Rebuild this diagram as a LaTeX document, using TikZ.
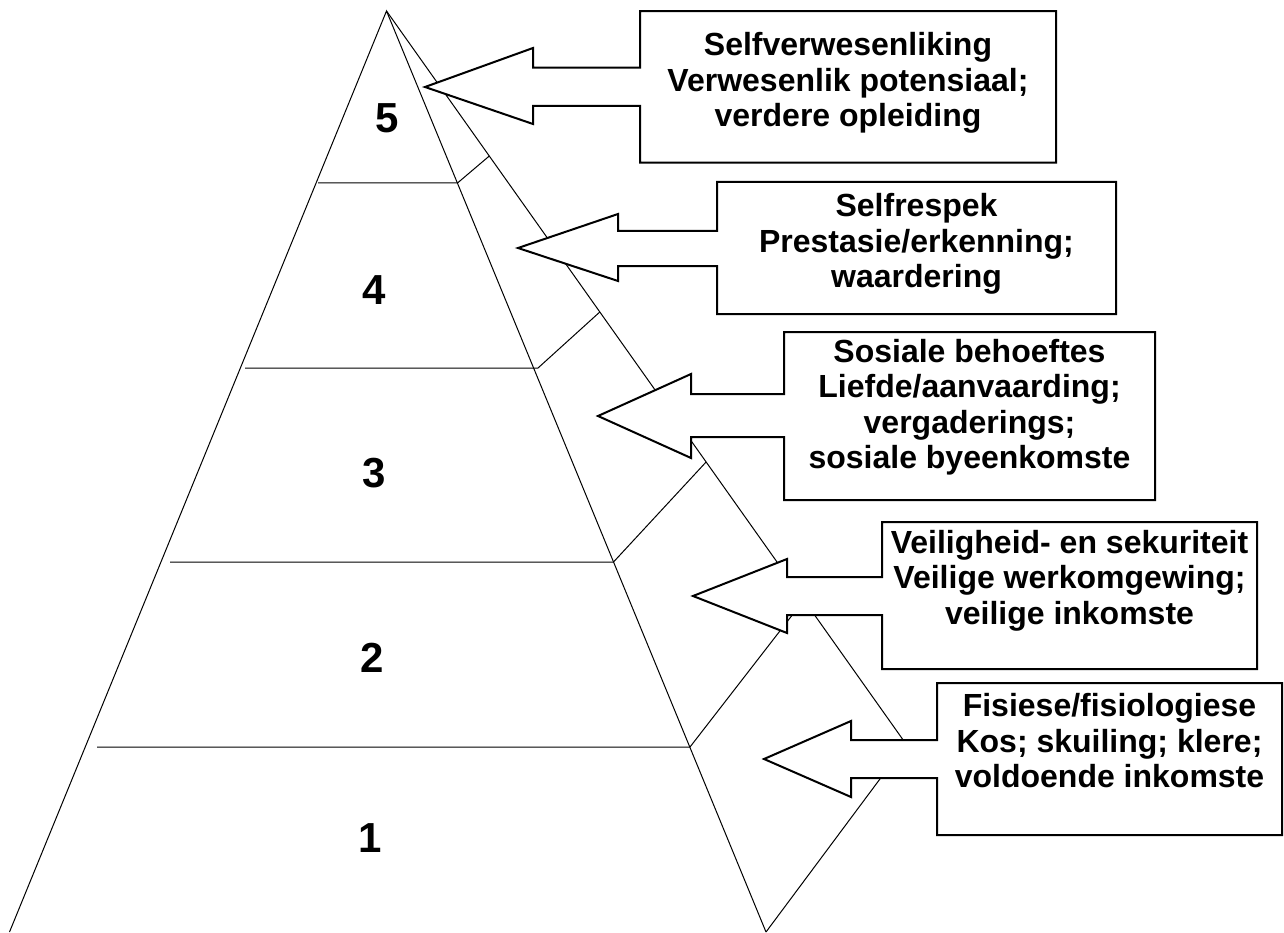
\documentclass[tikz,border=0pt]{standalone}
\usepackage{fontspec}
\setmainfont{Liberation Sans}
\usetikzlibrary{calc}
\tikzset{
  pyrline/.style={
    draw=black,
    line width=1pt
  },
  calloutshape/.style={
    draw=black,
    fill=white,
    line width=2pt,
    line join=miter
  },
  calloutbox/.style={
    draw=none,
    inner sep=0pt,
    outer sep=0pt
  },
  callouttext/.style={
    align=center,
    inner sep=0pt,
    font=\fontsize{32}{35.5}\selectfont\bfseries
  },
  levelnum/.style={
    font=\fontsize{42}{42}\selectfont\bfseries
  }
}

\begin{document}
\begin{tikzpicture}[x=1pt, y=-1pt]
    \useasboundingbox (0,0) rectangle (1284,933);

    % pyramid corners
    \coordinate (apex) at (386.5,11);
    \coordinate (baseleft) at (9.5,932);
    \coordinate (baseright) at (766,932);
    \coordinate (baseback) at (906,744);

    % callout boxes, outline drawn further down
    \node[calloutbox, minimum width=416pt, minimum height=151.7pt] (actual) at (848,86.9) {};
    \node[calloutbox, minimum width=399pt, minimum height=132pt] (esteem) at (916.5,248) {};
    \node[calloutbox, minimum width=371pt, minimum height=168pt] (social) at (969.5,416) {};
    \node[calloutbox, minimum width=375pt, minimum height=147pt] (safety) at (1069.5,595.5) {};
    \node[calloutbox, minimum width=345pt, minimum height=152pt] (physio) at (1109.5,759) {};

    \coordinate (actualtip) at (425,87);
    \coordinate (esteemtip) at (518,248);
    \coordinate (socialtip) at (598,416);
    \coordinate (safetytip) at (693,596);
    \coordinate (physiotip) at (764,759);

    % faces
    \draw[pyrline] (baseleft) -- (apex) -- (baseright);
    \draw[pyrline] (apex) -- (baseback) -- (baseright);

    % levels: front cut, then side cut
    \draw[pyrline] (318,183) -- (457.5,183) -- (489.3,156);
    \draw[pyrline] (245,368) -- (538,368) -- (599.8,312);
    \draw[pyrline] (170,562) -- (613.5,562) -- (706.1,462);
    \draw[pyrline] (97,747) -- (690,747) -- (803.9,600);

    % callout arrows
    \draw[calloutshape] (actual.north west) -- (actual.north east) -- (actual.south east) -- (actual.south west)
        -- (actual.west |- 0,106) -- (533,106) -- (533,124) -- (actualtip) -- (533,48) -- (533,67.7)
        -- (actual.west |- 0,67.7) -- cycle;
    \draw[calloutshape] (esteem.north west) -- (esteem.north east) -- (esteem.south east) -- (esteem.south west)
        -- (esteem.west |- 0,266) -- (618,266) -- (618,281) -- (esteemtip) -- (618,214) -- (618,231)
        -- (esteem.west |- 0,231) -- cycle;
    \draw[calloutshape] (social.north west) -- (social.north east) -- (social.south east) -- (social.south west)
        -- (social.west |- 0,437) -- (691,437) -- (691,458) -- (socialtip) -- (691,374) -- (691,394)
        -- (social.west |- 0,394) -- cycle;
    \draw[calloutshape] (safety.north west) -- (safety.north east) -- (safety.south east) -- (safety.south west)
        -- (safety.west |- 0,615) -- (787,615) -- (787,633) -- (safetytip) -- (787,559) -- (787,577)
        -- (safety.west |- 0,577) -- cycle;
    \draw[calloutshape] (physio.north west) -- (physio.north east) -- (physio.south east) -- (physio.south west)
        -- (physio.west |- 0,778) -- (851,778) -- (851,797) -- (physiotip) -- (851,721) -- (851,740)
        -- (physio.west |- 0,740) -- cycle;

    % texts
    \node[callouttext, yshift=4pt] (actualtext) at (actual) {Selfverwesenliking\\Verwesenlik potensiaal;\\verdere opleiding};
    \node[callouttext, yshift=4pt] (esteemtext) at (esteem) {Selfrespek\\Prestasie/erkenning;\\waardering};
    \node[callouttext, yshift=9pt] (socialtext) at (social) {Sosiale behoeftes\\Liefde/aanvaarding;\\vergaderings;\\sosiale byeenkomste};
    \node[callouttext, yshift=15pt] (safetytext) at (safety) {Veiligheid- en sekuriteit\\Veilige werkomgewing;\\veilige inkomste};
    \node[callouttext, yshift=18pt] (physiotext) at (physio) {Fisiese/fisiologiese\\Kos; skuiling; klere;\\voldoende inkomste};

    \node[levelnum] (lvl5) at (387,118) {5};
    \node[levelnum] (lvl4) at (374,290) {4};
    \node[levelnum] (lvl3) at (374,473) {3};
    \node[levelnum] (lvl2) at (372,658) {2};
    \node[levelnum] (lvl1) at (370,838) {1};
\end{tikzpicture}
\end{document}
